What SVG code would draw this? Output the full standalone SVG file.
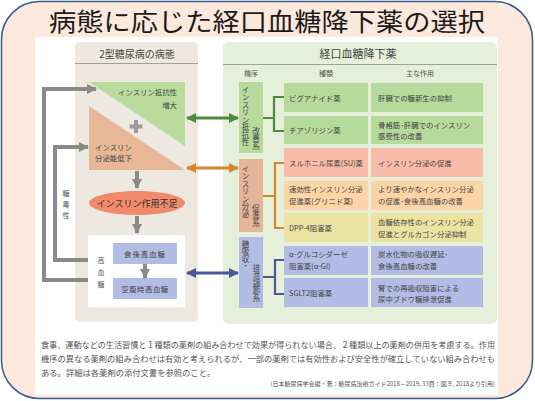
<svg xmlns="http://www.w3.org/2000/svg" width="535" height="401" viewBox="0 0 535 401">
<defs>
<style>
text{font-family:"Noto Sans CJK JP","Noto Sans",sans-serif;fill:#444}
.t{font-size:7.4px}
.h{font-size:7px;fill:#555}
.v{writing-mode:vertical-rl;font-size:7.5px}
.conn{fill:none}
</style>
<marker id="mg" viewBox="0 0 10 10" refX="9" refY="5" markerWidth="10" markerHeight="12" markerUnits="userSpaceOnUse" orient="auto-start-reverse"><path d="M0,0L10,5L0,10z" fill="#4e8a3e"/></marker>
<marker id="mo" viewBox="0 0 10 10" refX="9" refY="5" markerWidth="10" markerHeight="12" markerUnits="userSpaceOnUse" orient="auto-start-reverse"><path d="M0,0L10,5L0,10z" fill="#d4892c"/></marker>
<marker id="mb" viewBox="0 0 10 10" refX="9" refY="5" markerWidth="10" markerHeight="12" markerUnits="userSpaceOnUse" orient="auto-start-reverse"><path d="M0,0L10,5L0,10z" fill="#4b5796"/></marker>
<marker id="mgr" viewBox="0 0 10 10" refX="9" refY="5" markerWidth="10" markerHeight="11" markerUnits="userSpaceOnUse" orient="auto"><path d="M0,0L10,5L0,10z" fill="#8a8a8a"/></marker>
</defs>

<rect x="1.5" y="1.5" width="531" height="397" rx="38" fill="#fde9dc" stroke="#3a5a90" stroke-width="1.5"/>
<text x="267" y="31" text-anchor="middle" style="font-size:25px;fill:#1a1a1a" textLength="436" lengthAdjust="spacingAndGlyphs">病態に応じた経口血糖降下薬の選択</text>
<rect x="35" y="37" width="463" height="358" fill="#ffffff"/>

<g id="left-panel">
<rect x="75" y="42" width="123" height="280" rx="5" fill="#ede8e0"/>
<line x1="75" y1="63.5" x2="198" y2="63.5" stroke="#a0a0a0" stroke-width="1.2"/>
<text x="137" y="58" text-anchor="middle" style="font-size:10px">2型糖尿病の病態</text>
</g>

<g id="right-panel">
<rect x="223" y="42" width="274" height="282" rx="5" fill="#e6efd9"/>
<line x1="223" y1="64.5" x2="497" y2="64.5" stroke="#a0a0a0" stroke-width="1.2"/>
<text x="358" y="58" text-anchor="middle" style="font-size:11px">経口血糖降下薬</text>
<text class="h" x="251" y="76" text-anchor="middle">機序</text>
<text class="h" x="326" y="76" text-anchor="middle">種類</text>
<text class="h" x="420" y="76" text-anchor="middle">主な作用</text>
</g>

<g id="insulin-resistance">
<polygon points="89,82 185,82 185,146" fill="#b9dc9d"/>
<text class="t" x="177" y="95" text-anchor="end">インスリン抵抗性</text>
<text class="t" x="177" y="108" text-anchor="end">増大</text>
</g>
<g id="plus"><path d="M136,120v13M129.5,126.5h13" stroke="#9a9a9a" stroke-width="4"/></g>
<g id="insulin-secretion">
<polygon points="89,106 89,170 185,170" fill="#e8b798"/>
<text class="t" x="95" y="150">インスリン</text>
<text class="t" x="95" y="161">分泌能低下</text>
</g>
<g id="insulin-deficiency">
<ellipse cx="137" cy="203" rx="48" ry="12" fill="#f08a6b"/>
<text x="137" y="206.5" text-anchor="middle" style="font-size:9px;fill:#333">インスリン作用不足</text>
</g>
<g id="hyperglycemia">
<rect x="88" y="235" width="97" height="72" fill="#ffffff"/>
<text x="101" y="263" text-anchor="middle" class="h">高</text>
<text x="101" y="275" text-anchor="middle" class="h">血</text>
<text x="101" y="287" text-anchor="middle" class="h">糖</text>
</g>
<g id="postprandial">
<rect x="113" y="243" width="64" height="21" fill="#b3bce5"/>
<text class="t" x="145" y="256.5" text-anchor="middle" letter-spacing="1">食後高血糖</text>
</g>
<g id="fasting">
<rect x="113" y="278" width="64" height="21" fill="#b3bce5"/>
<text class="t" x="145" y="291.5" text-anchor="middle" letter-spacing="0.5">空腹時高血糖</text>
</g>
<g id="glucotoxicity">
<text class="h" x="66" y="196" text-anchor="middle">糖</text>
<text class="h" x="66" y="207" text-anchor="middle">毒</text>
<text class="h" x="66" y="218" text-anchor="middle">性</text>
</g>

<g id="mech-resistance">
<rect x="239" y="82" width="24" height="71" fill="#b6d99c"/>
<text class="v" x="245.5" y="86">インスリン抵抗性</text>
<text class="v" x="256" y="127">改善系</text>
</g>
<g id="mech-secretion">
<rect x="239" y="159" width="24" height="73" fill="#e6b496"/>
<text class="v" x="245.5" y="165">インスリン分泌</text>
<text class="v" x="256" y="204">促進系</text>
</g>
<g id="mech-absorption">
<rect x="239" y="237" width="24" height="71" fill="#b3bce5"/>
<text class="v" x="245.5" y="240">糖吸収・</text>
<text class="v" x="256.5" y="264">排泄調節系</text>
</g>

<g id="row-biguanide">
<rect x="284" y="83" width="84" height="29" fill="#b6d99c"/>
<rect x="371" y="83" width="112" height="29" fill="#b6d99c"/>
<text class="t" x="289" y="100.5">ビグアナイド薬</text>
<text class="t" x="378" y="100.5">肝臓での糖新生の抑制</text>
</g>
<g id="row-tzd">
<rect x="284" y="116" width="84" height="28" fill="#b6d99c"/>
<rect x="371" y="116" width="112" height="28" fill="#b6d99c"/>
<text class="t" x="289" y="133">チアゾリジン薬</text>
<text class="t" x="378" y="128">骨格筋･肝臓でのインスリン</text>
<text class="t" x="378" y="139">感受性の改善</text>
</g>
<g id="row-su">
<rect x="284" y="148" width="84" height="29" fill="#f8bca8"/>
<rect x="371" y="148" width="112" height="29" fill="#f8bca8"/>
<text class="t" x="289" y="165.5">スルホニル尿素(SU)薬</text>
<text class="t" x="378" y="165.5">インスリン分泌の促進</text>
</g>
<g id="row-glinide">
<rect x="284" y="181" width="84" height="29" fill="#fdd4a6"/>
<rect x="371" y="181" width="112" height="29" fill="#fdd4a6"/>
<text class="t" x="289" y="192">速効性インスリン分泌</text>
<text class="t" x="289" y="203.5">促進薬(グリニド薬)</text>
<text class="t" x="378" y="192">より速やかなインスリン分泌</text>
<text class="t" x="378" y="203.5">の促進･食後高血糖の改善</text>
</g>
<g id="row-dpp4">
<rect x="284" y="213" width="84" height="29" fill="#ece3a2"/>
<rect x="371" y="213" width="112" height="29" fill="#ece3a2"/>
<text class="t" x="289" y="231">DPP-4阻害薬</text>
<text class="t" x="378" y="225">血糖依存性のインスリン分泌</text>
<text class="t" x="378" y="236.5">促進とグルカゴン分泌抑制</text>
</g>
<g id="row-agi">
<rect x="284" y="246" width="84" height="29" fill="#b3bce5"/>
<rect x="371" y="246" width="112" height="29" fill="#b3bce5"/>
<text class="t" x="289" y="257">α-グルコシダーゼ</text>
<text class="t" x="289" y="269">阻害薬(α-GI)</text>
<text class="t" x="378" y="257">炭水化物の吸収遅延･</text>
<text class="t" x="378" y="269">食後高血糖の改善</text>
</g>
<g id="row-sglt2">
<rect x="284" y="278" width="84" height="29" fill="#b3bce5"/>
<rect x="371" y="278" width="112" height="29" fill="#b3bce5"/>
<text class="t" x="289" y="296">SGLT2阻害薬</text>
<text class="t" x="378" y="290.5">腎での再吸収阻害による</text>
<text class="t" x="378" y="302">尿中ブドウ糖排泄促進</text>
</g>

<g id="connectors" class="conn">
<line x1="187" y1="118" x2="238" y2="118" stroke="#4e8a3e" stroke-width="3" marker-start="url(#mg)" marker-end="url(#mg)"/>
<line x1="187" y1="168" x2="238" y2="168" stroke="#d4892c" stroke-width="3" marker-start="url(#mo)" marker-end="url(#mo)"/>
<line x1="187" y1="273" x2="238" y2="273" stroke="#4b5796" stroke-width="3" marker-start="url(#mb)" marker-end="url(#mb)"/>
<path d="M263,118H274M284,97H274V131H284" stroke="#4e8a3e" stroke-width="2.2"/>
<path d="M263,196H275M284,163H275V228H284" stroke="#d4892c" stroke-width="2.2"/>
<path d="M263,277H275M284,260H275V294H284" stroke="#4b5796" stroke-width="2.2"/>
<line x1="137" y1="171" x2="137" y2="188" stroke="#8a8a8a" stroke-width="4" marker-end="url(#mgr)"/>
<line x1="137" y1="216" x2="137" y2="233" stroke="#8a8a8a" stroke-width="4" marker-end="url(#mgr)"/>
<line x1="145" y1="264" x2="145" y2="278" stroke="#8a8a8a" stroke-width="4" marker-end="url(#mgr)"/>
<path d="M88,280H44V89H96" stroke="#8a8a8a" stroke-width="4" marker-end="url(#mgr)"/>
<path d="M88,260H55V147H88" stroke="#8a8a8a" stroke-width="4" marker-end="url(#mgr)"/>
</g>

<g id="notes">
<text x="41" y="348" style="font-size:8.3px;fill:#555" textLength="454" lengthAdjust="spacingAndGlyphs">食事、運動などの生活習慣と１種類の薬剤の組み合わせで効果が得られない場合、２種類以上の薬剤の併用を考慮する。作用</text>
<text x="41" y="362" style="font-size:8.3px;fill:#555" textLength="454" lengthAdjust="spacingAndGlyphs">機序の異なる薬剤の組み合わせは有効と考えられるが、一部の薬剤では有効性および安全性が確立していない組み合わせも</text>
<text x="41" y="376" style="font-size:8.3px;fill:#555">ある。詳細は各薬剤の添付文書を参照のこと。</text>
<text x="495" y="386" text-anchor="end" style="font-size:6px;fill:#555">(日本糖尿病学会編・著：糖尿病治療ガイド2018－2019, 33頁：図９, 2018より引用)</text>
</g>
</svg>
